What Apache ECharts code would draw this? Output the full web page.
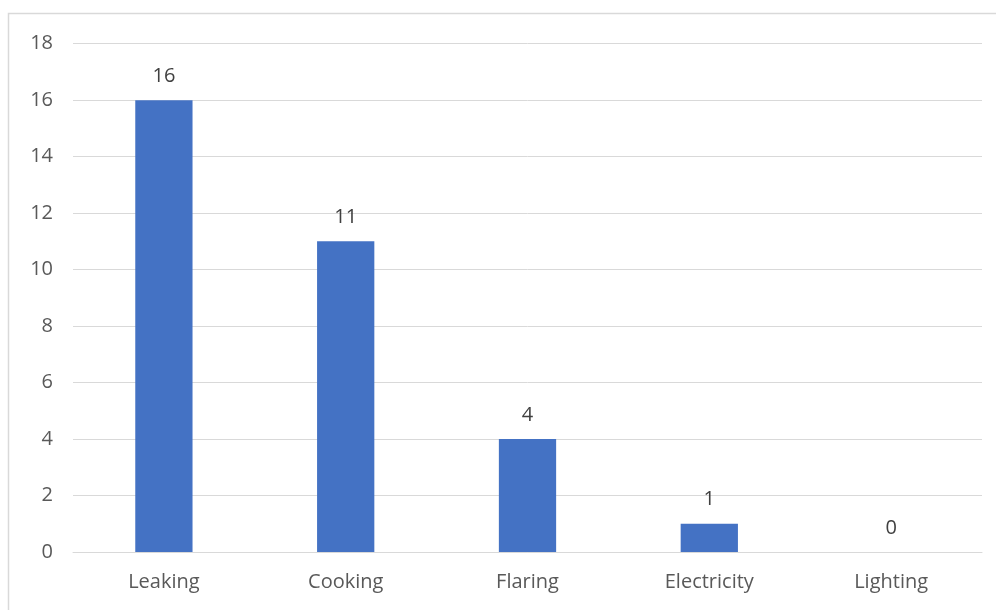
<!DOCTYPE html>
<html><head><meta charset="utf-8">
<script src="https://cdn.jsdelivr.net/npm/echarts@6/dist/echarts.min.js"></script>
<style>html,body{margin:0;padding:0;background:#fff}#c{width:996px;height:610px}</style>
</head><body><div id="c"></div>
<script>
const categories = ["Leaking", "Cooking", "Flaring", "Electricity", "Lighting"];
const values = [16, 11, 4, 1, 0];
const yTicks = [0, 2, 4, 6, 8, 10, 12, 14, 16, 18];

const chart = echarts.init(document.getElementById('c'), null, {renderer: 'canvas'});
const font = '"Open Sans", "DejaVu Sans", sans-serif';
chart.setOption({
  animation: false,
  backgroundColor: '#fff',
  graphic: [{
    type: 'rect', silent: true,
    shape: {x: 8.5, y: 13.5, width: 1100, height: 1000},
    style: {fill: 'none', stroke: '#d9d9d9', lineWidth: 1.5}
  }],
  grid: {left: 73, right: 14, top: 43.7, bottom: 58, containLabel: false},
  xAxis: {
    type: 'category', data: categories,
    axisLine: {lineStyle: {color: '#d9d9d9', width: 1}},
    axisTick: {show: false},
    axisLabel: {color: '#595959', fontSize: 20, fontFamily: font, margin: 20}
  },
  yAxis: {
    type: 'value', min: yTicks[0], max: yTicks[yTicks.length - 1], interval: 2,
    axisLine: {show: false}, axisTick: {show: false},
    splitLine: {lineStyle: {color: '#d9d9d9', width: 1}},
    axisLabel: {color: '#595959', fontSize: 20, fontFamily: font, margin: 20}
  },
  series: [{
    type: 'bar', data: values, barWidth: '31.5%',
    itemStyle: {color: '#4472C4'},
    label: {show: true, position: 'top', distance: 14, color: '#404040', fontSize: 20, fontFamily: font}
  }]
});
</script></body></html>
